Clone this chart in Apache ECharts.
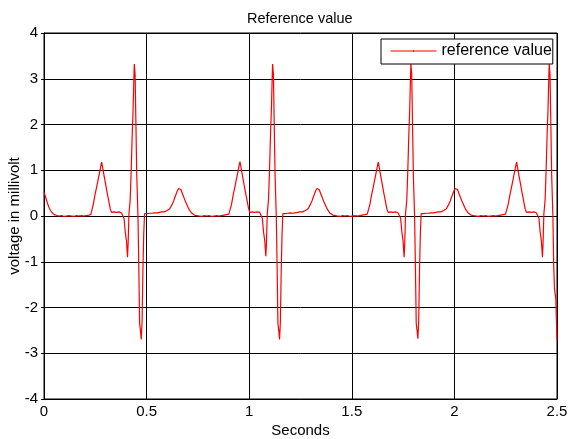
<!DOCTYPE html>
<html>
<head>
<meta charset="utf-8">
<script src="https://cdn.jsdelivr.net/npm/echarts@6/dist/echarts.min.js"></script>
<style>html,body{margin:0;padding:0;background:#fff;}#c{width:569px;height:439px;}</style>
</head>
<body>
<div id="c"></div>
<script>
// [seconds, millivolt] samples
const leadIn = [[0.000,0.52],[0.004,0.47],[0.008,0.41],[0.012,0.35],[0.016,0.29],[0.020,0.24],[0.024,0.19],[0.028,0.15],[0.032,0.12],[0.036,0.09],[0.040,0.07],[0.045,0.05],[0.050,0.03],[0.056,0.05],[0.062,0.01],[0.068,0.03],[0.074,0.00],[0.080,0.04],[0.086,0.01],[0.092,0.03],[0.098,-0.01],[0.104,0.02],[0.110,0.00],[0.116,0.04],[0.122,0.01],[0.128,0.03],[0.134,0.00],[0.140,0.02],[0.146,-0.01],[0.152,0.03],[0.158,0.01],[0.164,0.04],[0.170,0.00],[0.176,0.02],[0.182,0.01],[0.188,0.04],[0.194,0.00],[0.200,0.03],[0.206,0.01],[0.212,0.04],[0.218,0.02],[0.224,0.05],[0.228,0.03]];

const beat1 = [[0.232,0.06],[0.240,0.25],[0.248,0.45],[0.256,0.62],[0.264,0.80],[0.272,0.98],[0.278,1.12],[0.281,1.18],[0.285,1.08],[0.292,0.90],[0.300,0.70],[0.308,0.50],[0.316,0.32],[0.323,0.15],[0.329,0.08],[0.335,0.06],[0.341,0.09],[0.347,0.05],[0.353,0.08],[0.359,0.06],[0.365,0.09],[0.371,0.05],[0.377,0.07],[0.383,0.05],[0.386,0.04],
[0.390,-0.05],[0.396,-0.35],[0.402,-0.55],[0.407,-0.90],[0.410,-0.60],[0.414,0.05],[0.420,0.35],[0.425,1.00],[0.430,1.80],[0.434,2.30],[0.438,3.00],[0.440,3.32],[0.444,3.10],[0.448,2.00],[0.452,0.90],[0.458,0.00],[0.462,-1.10],[0.466,-2.35],[0.470,-2.50],[0.474,-2.70],[0.478,-2.30],[0.482,-1.20],[0.486,-0.40],[0.490,0.05],
[0.496,0.07],[0.502,0.05],[0.508,0.08],[0.514,0.06],[0.520,0.09],[0.526,0.06],[0.532,0.08],[0.538,0.07],[0.544,0.10],[0.550,0.07],[0.556,0.09],[0.562,0.08],[0.568,0.11],[0.574,0.09],[0.580,0.10],[0.586,0.09],[0.592,0.12],[0.600,0.12],
[0.606,0.13],[0.613,0.16],[0.619,0.20],[0.625,0.26],[0.632,0.33],[0.638,0.41],[0.644,0.48],[0.650,0.55],[0.656,0.60],[0.662,0.64],[0.667,0.58],[0.672,0.52],[0.678,0.45],[0.684,0.38],[0.690,0.31],[0.696,0.25],[0.702,0.19],[0.708,0.14],[0.713,0.10],[0.718,0.07],[0.723,0.05],[0.727,0.04],
[0.733,0.02],[0.739,0.04],[0.745,0.01],[0.751,0.03],[0.757,0.00],[0.763,0.02],[0.769,-0.01],[0.775,0.03],[0.781,0.01],[0.787,0.02],[0.793,0.00],[0.799,0.03],[0.805,0.01],[0.811,0.02],[0.817,-0.01],[0.823,0.02],[0.829,0.00],[0.835,0.03],[0.841,0.01],[0.847,0.02],[0.853,0.00],[0.859,0.03],[0.865,0.01],[0.871,0.04],[0.877,0.02],[0.883,0.04],[0.889,0.03],[0.895,0.05],[0.901,0.04]];

const beat2 = [[0.906,0.06],[0.914,0.26],[0.922,0.46],[0.930,0.63],[0.938,0.81],[0.946,0.99],[0.952,1.13],[0.955,1.19],[0.959,1.09],[0.966,0.91],[0.974,0.71],[0.982,0.51],[0.990,0.33],[0.997,0.16],[1.003,0.08],[1.009,0.07],[1.015,0.09],[1.021,0.06],[1.027,0.08],[1.033,0.05],[1.039,0.09],[1.045,0.06],[1.051,0.08],[1.057,0.05],[1.060,0.04],
[1.064,-0.05],[1.070,-0.35],[1.076,-0.55],[1.081,-0.88],[1.084,-0.60],[1.088,0.05],[1.094,0.35],[1.099,1.00],[1.104,1.80],[1.108,2.30],[1.112,3.00],[1.114,3.32],[1.118,3.10],[1.122,2.00],[1.126,0.90],[1.132,0.00],[1.136,-1.10],[1.140,-2.35],[1.144,-2.50],[1.148,-2.70],[1.152,-2.30],[1.156,-1.20],[1.160,-0.40],[1.164,0.05],
[1.170,0.07],[1.176,0.05],[1.182,0.08],[1.188,0.06],[1.194,0.09],[1.200,0.07],[1.206,0.08],[1.212,0.06],[1.218,0.10],[1.224,0.07],[1.230,0.09],[1.236,0.08],[1.242,0.11],[1.248,0.09],[1.254,0.10],[1.260,0.09],[1.266,0.12],[1.274,0.12],
[1.280,0.13],[1.287,0.16],[1.293,0.20],[1.299,0.26],[1.306,0.33],[1.312,0.41],[1.318,0.48],[1.324,0.55],[1.330,0.60],[1.336,0.64],[1.341,0.58],[1.346,0.52],[1.352,0.45],[1.358,0.38],[1.364,0.31],[1.370,0.25],[1.376,0.19],[1.382,0.14],[1.387,0.10],[1.392,0.07],[1.397,0.05],[1.401,0.04],
[1.407,0.02],[1.413,0.04],[1.419,0.01],[1.425,0.03],[1.431,0.00],[1.437,0.02],[1.443,-0.01],[1.449,0.03],[1.455,0.01],[1.461,0.02],[1.467,0.00],[1.473,0.03],[1.479,0.01],[1.485,0.02],[1.491,-0.01],[1.497,0.02],[1.503,0.00],[1.509,0.03],[1.515,0.01],[1.521,0.02],[1.527,0.00],[1.533,0.03],[1.539,0.01],[1.545,0.04],[1.551,0.02],[1.557,0.04],[1.563,0.03],[1.569,0.05],[1.575,0.04]];

const beat3 = [[1.580,0.06],[1.588,0.25],[1.596,0.45],[1.604,0.62],[1.612,0.80],[1.620,0.98],[1.626,1.12],[1.629,1.18],[1.633,1.08],[1.640,0.90],[1.648,0.70],[1.656,0.50],[1.664,0.32],[1.671,0.15],[1.677,0.08],[1.683,0.06],[1.689,0.09],[1.695,0.05],[1.701,0.08],[1.707,0.06],[1.713,0.09],[1.719,0.05],[1.725,0.07],[1.731,0.05],[1.734,0.04],
[1.738,-0.05],[1.744,-0.35],[1.750,-0.55],[1.755,-0.90],[1.758,-0.60],[1.762,0.05],[1.768,0.35],[1.773,1.00],[1.778,1.80],[1.782,2.30],[1.786,3.00],[1.788,3.32],[1.792,3.10],[1.796,2.00],[1.800,0.90],[1.806,0.00],[1.810,-1.10],[1.814,-2.35],[1.818,-2.50],[1.822,-2.68],[1.826,-2.30],[1.830,-1.20],[1.834,-0.40],[1.838,0.05],
[1.844,0.07],[1.850,0.05],[1.856,0.08],[1.862,0.06],[1.868,0.09],[1.874,0.06],[1.880,0.08],[1.886,0.07],[1.892,0.10],[1.898,0.07],[1.904,0.09],[1.910,0.08],[1.916,0.11],[1.922,0.09],[1.928,0.10],[1.934,0.09],[1.940,0.12],[1.948,0.12],
[1.954,0.13],[1.961,0.16],[1.967,0.20],[1.973,0.26],[1.980,0.33],[1.986,0.41],[1.992,0.48],[1.998,0.55],[2.004,0.60],[2.010,0.64],[2.015,0.58],[2.020,0.52],[2.026,0.45],[2.032,0.38],[2.038,0.31],[2.044,0.25],[2.050,0.19],[2.056,0.14],[2.061,0.10],[2.066,0.07],[2.071,0.05],[2.075,0.04],
[2.081,0.02],[2.087,0.04],[2.093,0.01],[2.099,0.03],[2.105,0.00],[2.111,0.02],[2.117,-0.01],[2.123,0.03],[2.129,0.01],[2.135,0.02],[2.141,0.00],[2.147,0.03],[2.153,0.01],[2.159,0.02],[2.165,-0.01],[2.171,0.02],[2.177,0.00],[2.183,0.03],[2.189,0.01],[2.195,0.02],[2.201,0.00],[2.207,0.03],[2.213,0.01],[2.219,0.04],[2.225,0.02],[2.231,0.04],[2.237,0.03],[2.243,0.05],[2.249,0.04]];

const beat4 = [[2.254,0.06],[2.262,0.25],[2.270,0.45],[2.278,0.62],[2.286,0.80],[2.294,0.98],[2.300,1.12],[2.303,1.18],[2.307,1.08],[2.314,0.90],[2.322,0.70],[2.330,0.50],[2.338,0.32],[2.345,0.15],[2.351,0.08],[2.357,0.06],[2.363,0.09],[2.369,0.05],[2.375,0.08],[2.381,0.06],[2.387,0.09],[2.393,0.05],[2.399,0.07],[2.405,0.05],[2.408,0.04],
[2.412,-0.05],[2.418,-0.35],[2.424,-0.55],[2.429,-0.90],[2.432,-0.60],[2.436,0.05],[2.442,0.35],[2.447,1.00],[2.452,1.80],[2.456,2.30],[2.460,3.00],[2.462,3.32],[2.466,3.10],[2.470,2.00],[2.474,0.90],[2.480,0.00],[2.484,-1.10],[2.488,-1.60],[2.494,-1.80],[2.498,-1.80],[2.500,-2.70]];

const xTicks = [0, 0.5, 1, 1.5, 2, 2.5];
const yTicks = [-4, -3, -2, -1, 0, 1, 2, 3, 4];
const seriesName = 'reference value';
const titleText = 'Reference value';
const xName = 'Seconds';
const yName = 'voltage in millivolt';

const FONT = '"Liberation Sans", Arial, sans-serif';
const RED = '#ff0000';
const chart = echarts.init(document.getElementById('c'), null, {renderer: 'canvas'});
const signal = leadIn.concat(beat1, beat2, beat3, beat4);

const axisBase = {
  axisLine: {show: true, onZero: false, lineStyle: {color: '#000', width: 1}},
  axisTick: {show: true, inside: true, length: 3, lineStyle: {color: '#000'}},
  splitLine: {show: true, lineStyle: {color: '#000', width: 1}},
  axisLabel: {color: '#000', fontFamily: FONT, fontSize: 15},
  nameTextStyle: {color: '#000', fontFamily: FONT, fontSize: 15}
};

chart.setOption({
  animation: false,
  backgroundColor: '#fff',
  title: {
    text: titleText, left: 247, top: 11, padding: 0,
    textStyle: {color: '#000', fontFamily: FONT, fontSize: 14.5, fontWeight: 'normal'}
  },
  legend: {
    data: [seriesName],
    left: 381, top: 39,
    itemWidth: 46, itemHeight: 2, itemGap: 5,
    lineStyle: {width: 1},
    padding: [4, 1, 5, 9],
    borderColor: '#000', borderWidth: 1, backgroundColor: '#fff',
    textStyle: {color: '#000', fontFamily: FONT, fontSize: 16, lineHeight: 16}
  },
  grid: {left: 44, right: 12, top: 33, bottom: 40, containLabel: false, outerBoundsMode: 'none',
    show: true, borderColor: '#000', borderWidth: 1, backgroundColor: 'transparent'},
  xAxis: [
    Object.assign({}, axisBase, {
      type: 'value', position: 'bottom', min: xTicks[0], max: xTicks[xTicks.length - 1], interval: 0.5,
      name: xName, nameLocation: 'middle', nameGap: 24, nameMoveOverlap: false,
      axisLabel: Object.assign({}, axisBase.axisLabel, {margin: 5})
    }),
    {type: 'value', position: 'top', min: xTicks[0], max: xTicks[xTicks.length - 1], interval: 0.5,
      axisLine: {show: true, lineStyle: {color: '#000'}}, axisTick: {show: true, inside: true, length: 3, lineStyle: {color: '#000'}},
      axisLabel: {show: false}, splitLine: {show: false}}
  ],
  yAxis: [
    Object.assign({}, axisBase, {
      type: 'value', position: 'left', min: yTicks[0], max: yTicks[yTicks.length - 1], interval: 1,
      name: yName, nameLocation: 'middle', nameGap: 22, nameRotate: 90, nameMoveOverlap: false,
      axisLabel: Object.assign({}, axisBase.axisLabel, {margin: 6})
    }),
    {type: 'value', position: 'right', min: yTicks[0], max: yTicks[yTicks.length - 1], interval: 1,
      axisLine: {show: true, lineStyle: {color: '#000'}}, axisTick: {show: true, inside: true, length: 3, lineStyle: {color: '#000'}},
      axisLabel: {show: false}, splitLine: {show: false}}
  ],
  series: [{
    name: seriesName, type: 'line', xAxisIndex: 0, yAxisIndex: 0,
    data: signal, showSymbol: false, symbol: 'none',
    lineStyle: {color: RED, width: 1.2}, itemStyle: {color: RED},
    z: 2
  }]
});
</script>
</body>
</html>
